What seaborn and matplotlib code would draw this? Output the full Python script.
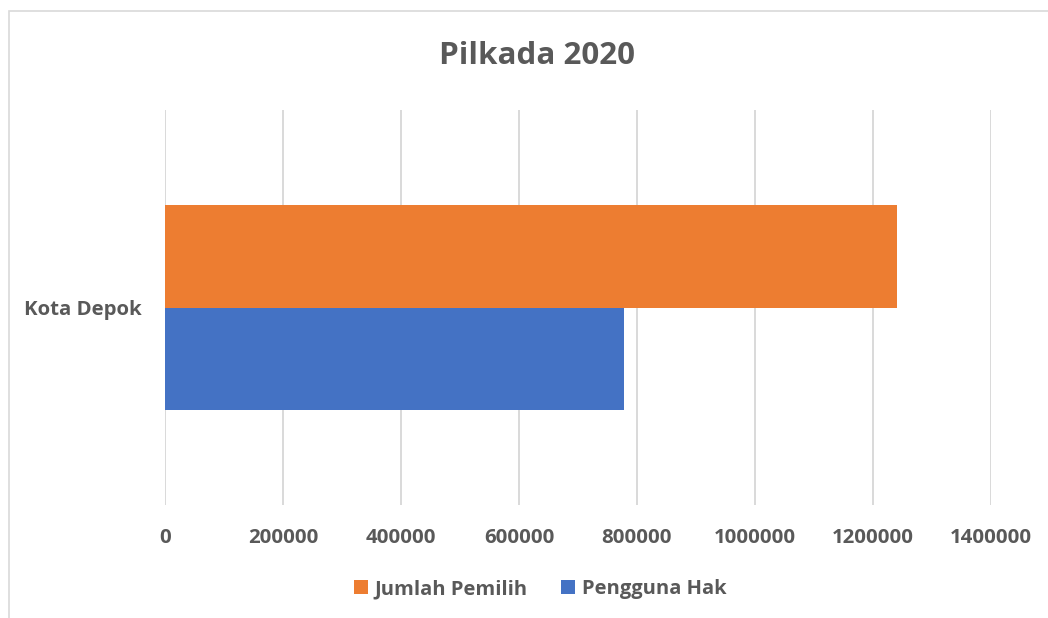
import matplotlib
matplotlib.use("Agg")
import matplotlib.pyplot as plt
import seaborn as sns
import pandas as pd
from matplotlib.patches import Rectangle, Patch

# Data
categories = ["Kota Depok"]
series_names = ["Jumlah Pemilih", "Pengguna Hak"]
jumlah_pemilih = [1241000]
pengguna_hak = [777500]
x_ticks = [0, 200000, 400000, 600000, 800000, 1000000, 1200000, 1400000]

colors = {"Jumlah Pemilih": "#ED7D31", "Pengguna Hak": "#4472C4"}
text_color = "#595959"
grid_color = "#D9D9D9"

df = pd.DataFrame({
    "Wilayah": categories * 2,
    "Seri": [series_names[0]] * len(categories) + [series_names[1]] * len(categories),
    "Jumlah": jumlah_pemilih + pengguna_hak,
})

sns.set_style("white")
plt.rcParams["font.family"] = ["Open Sans", "DejaVu Sans"]

W, H = 1048, 618
fig = plt.figure(figsize=(W / 100, H / 100), dpi=100)
ax = fig.add_axes([165 / W, 1 - 505 / H, (991 - 165) / W, (505 - 110) / H])

sns.barplot(data=df, y="Wilayah", x="Jumlah", hue="Seri", hue_order=series_names,
            palette=colors, orient="h", width=0.52, ax=ax, legend=False,
            saturation=1, edgecolor="none", linewidth=0)

ax.set_xlim(0, 1400000)
ax.set_ylim(0.5, -0.5)
ax.set_xticks(x_ticks)
ax.set_xticklabels([str(v) for v in x_ticks])
ax.xaxis.grid(True, color=grid_color, linewidth=1.4)
ax.set_axisbelow(True)
for s in ax.spines.values():
    s.set_visible(False)
ax.tick_params(axis="both", length=0, labelsize=14.7, labelcolor=text_color)
ax.tick_params(axis="x", pad=16.5)
ax.tick_params(axis="y", pad=16.5)
for lbl in ax.get_xticklabels() + ax.get_yticklabels():
    lbl.set_fontweight("bold")
ax.set_xlabel("")
ax.set_ylabel("")

# Title
fig.text(537 / W, 1 - 56 / H, "Pilkada 2020", ha="center", va="center",
         fontsize=22.6, fontweight="bold", color=text_color)

# Legend
handles = [Patch(facecolor=colors[n], edgecolor="none", label=n) for n in series_names]
leg = fig.legend(handles=handles, loc="center", bbox_to_anchor=(540 / W, 1 - 589 / H),
                 ncol=2, frameon=False, handlelength=0.7, handleheight=0.7,
                 handletextpad=0.3, columnspacing=1.7,
                 prop={"size": 14.5, "weight": "bold"})
for t in leg.get_texts():
    t.set_color(text_color)

# Chart area border
fig.add_artist(Rectangle((9 / W, -0.05), 1.2, 1 - 11 / H + 0.05,
                         transform=fig.transFigure, fill=False,
                         edgecolor=grid_color, linewidth=1.2))

fig.savefig("out.png", dpi=100)
